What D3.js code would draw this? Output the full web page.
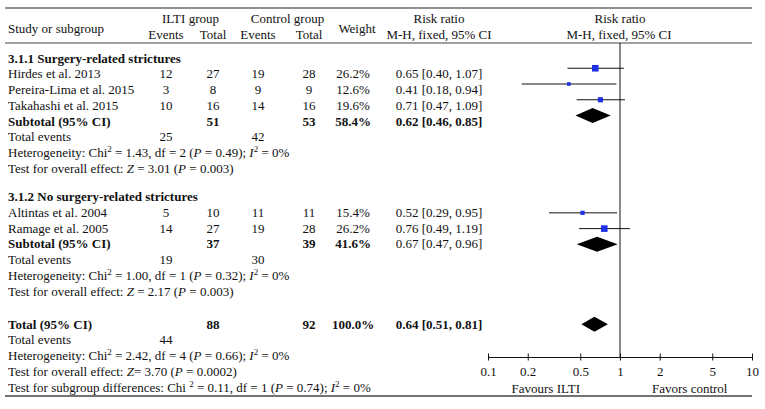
<!DOCTYPE html>
<html><head><meta charset="utf-8">
<script src="https://cdn.jsdelivr.net/npm/d3@7/dist/d3.min.js"></script>
<style>
html,body{margin:0;padding:0;background:#fff;}
svg{display:block;}
text{font-family:"Liberation Serif","DejaVu Serif",serif;font-size:13px;fill:#111;}
</style></head>
<body>
<script>
// ---------- data ----------
const studies = ["Hirdes et al. 2013","Pereira-Lima et al. 2015","Takahashi et al. 2015","Altintas et al. 2004","Ramage et al. 2005"];
const studyGroup = [0,0,0,1,1];
const iltiEvents = [12,3,10,5,14];
const iltiTotal = [27,8,16,10,27];
const ctrlEvents = [19,9,14,11,19];
const ctrlTotal = [28,9,16,11,28];
const weights = [26.2,12.6,19.6,15.4,26.2];
const rr = [0.65,0.41,0.71,0.52,0.76];
const rrLow = [0.40,0.18,0.47,0.29,0.49];
const rrHigh = [1.07,0.94,1.09,0.95,1.19];

const groupNames = ["3.1.1 Surgery-related strictures","3.1.2 No surgery-related strictures"];
const subIltiTotal = [51,37];
const subCtrlTotal = [53,39];
const subWeight = [58.4,41.6];
const subRR = [0.62,0.67];
const subLow = [0.46,0.47];
const subHigh = [0.85,0.96];
const subIltiEvents = [25,19];
const subCtrlEvents = [42,30];
const subChi = ["1.43","1.00"];
const subDf = [2,1];
const subP = ["0.49","0.32"];
const subI2 = [0,0];
const subZ = ["3.01","2.17"];
const subZP = ["0.003","0.003"];

const totIltiTotal = 88, totCtrlTotal = 92, totWeight = 100.0;
const totRR = 0.64, totLow = 0.51, totHigh = 0.81;
const totIltiEvents = 44;
const totChi = "2.42", totDf = 4, totP = "0.66", totI2 = 0;
const totZ = "3.70", totZP = "0.0002";
const sgChi = "0.11", sgDf = 1, sgP = "0.74", sgI2 = 0;

const axisTicks = [0.1,0.2,0.5,1,2,5,10];
const axisTickLabels = ["0.1","0.2","0.5","1","2","5","10"];
const favourLabels = ["Favours ILTI","Favors control"];

// ---------- layout ----------
const W = 765, H = 409;
const svg = d3.select("body").append("svg").attr("width",W).attr("height",H);

const x = d3.scaleLog().domain([0.1,10]).range([488,752]);
const rowY = d3.scaleLinear().domain([0,1]).range([58,73.75]);
const col = {study:8, ie:166, it:213, ce:258, ct:309, w:353, rr:439};
const lineL = 5, lineR = 752;
const baseOff = 4.5;
const markOffset = [-5.5, 0.5];

const f2 = d3.format(".2f");
const rrText = (a,l,h) => `${f2(a)} [${f2(l)}, ${f2(h)}]`;
const pct = d3.format(".1f");

function rich(xPos, y, segs, opts={}) {
  const t = svg.append("text").attr("x",xPos).attr("y",y+baseOff);
  if (opts.anchor) t.attr("text-anchor",opts.anchor);
  if (opts.bold) t.style("font-weight","bold");
  let pending = 0;
  segs.forEach(s => {
    const seg = typeof s === "string" ? {t:s} : s;
    const sp = t.append("tspan").text(seg.t);
    let dy = pending;
    pending = 0;
    if (seg.i) sp.style("font-style","italic");
    if (seg.sup) { dy += -5; pending = 5; sp.style("font-size","9px"); }
    if (dy) sp.attr("dy",dy);
  });
  return t;
}
function txt(xPos, y, s, anchor="middle", bold=false) {
  return rich(xPos, y, [String(s)], {anchor, bold});
}

// ---------- rules ----------
svg.append("line").attr("x1",lineL).attr("x2",lineR).attr("y1",8).attr("y2",8).attr("stroke","#222").attr("stroke-width",1.2);
svg.append("line").attr("x1",lineL).attr("x2",lineR).attr("y1",43).attr("y2",43).attr("stroke","#444").attr("stroke-width",1.2);
svg.append("line").attr("x1",lineL).attr("x2",lineR).attr("y1",396).attr("y2",396).attr("stroke","#444").attr("stroke-width",1.5);

// ---------- header ----------
txt(col.study, 28, "Study or subgroup", "start");
txt((col.ie+col.it)/2+1, 18, "ILTI group");
txt((col.ce+col.ct)/2+4, 18, "Control group");
txt(col.ie, 34, "Events"); txt(col.it, 34, "Total");
txt(col.ce, 34, "Events"); txt(col.ct, 34, "Total");
txt(col.w+4, 28, "Weight");
txt(col.rr, 18, "Risk ratio"); txt(col.rr, 34, "M-H, fixed, 95% CI");
txt(x(1), 18, "Risk ratio"); txt(x(1)-1, 34, "M-H, fixed, 95% CI");

// ---------- rows ----------
const groupStart = [0, 8.8];
const marks = svg.append("g");
const wScale = d3.scaleLinear().domain([12.6,26.2]).range([3.6,6.6]);

groupNames.forEach((g,gi) => {
  const r0 = groupStart[gi];
  txt(col.study, rowY(r0), g, "start", true);
  const idx = studies.map((s,i)=>i).filter(i=>studyGroup[i]===gi);
  idx.forEach((i,k) => {
    const y = rowY(r0+1+k);
    txt(col.study, y, studies[i], "start");
    txt(col.ie, y, iltiEvents[i]); txt(col.it, y, iltiTotal[i]);
    txt(col.ce, y, ctrlEvents[i]); txt(col.ct, y, ctrlTotal[i]);
    txt(col.w, y, pct(weights[i])+"%");
    txt(col.rr, y, rrText(rr[i],rrLow[i],rrHigh[i]));
    const my = y + markOffset[gi];
    marks.append("line").attr("x1",x(rrLow[i])).attr("x2",x(rrHigh[i])).attr("y1",my).attr("y2",my).attr("stroke","#111").attr("stroke-width",1);
    const s = wScale(weights[i]);
    marks.append("rect").attr("x",x(rr[i])-s/2).attr("y",my-s/2).attr("width",s).attr("height",s).attr("fill","#1f2fe6");
  });
  const rs = r0+1+idx.length;
  const ys = rowY(rs);
  txt(col.study, ys, "Subtotal (95% CI)", "start", true);
  txt(col.it, ys, subIltiTotal[gi], "middle", true);
  txt(col.ct, ys, subCtrlTotal[gi], "middle", true);
  txt(col.w, ys, pct(subWeight[gi])+"%", "middle", true);
  txt(col.rr, ys, rrText(subRR[gi],subLow[gi],subHigh[gi]), "middle", gi===0);
  const dy = ys + markOffset[gi];
  marks.append("path").attr("d",`M${x(subLow[gi])},${dy}L${x(subRR[gi])},${dy-7.5}L${x(subHigh[gi])},${dy}L${x(subRR[gi])},${dy+7.5}Z`).attr("fill","#000");
  const yt = rowY(rs+1);
  txt(col.study, yt, "Total events", "start");
  txt(col.ie, yt, subIltiEvents[gi]); txt(col.ce, yt, subCtrlEvents[gi]);
  rich(col.study, rowY(rs+2), ["Heterogeneity: Chi",{t:"2",sup:1},` = ${subChi[gi]}, df = ${subDf[gi]} (`,{t:"P",i:1},` = ${subP[gi]}); `,{t:"I",i:1},{t:"2",sup:1},` = ${subI2[gi]}%`]);
  rich(col.study, rowY(rs+3), ["Test for overall effect:  ",{t:"Z",i:1},` = ${subZ[gi]} (`,{t:"P",i:1},` = ${subZP[gi]})`]);
});

// overall
const rt = 16.9;
const yT = rowY(rt);
txt(col.study, yT, "Total (95% CI)", "start", true);
txt(col.it, yT, totIltiTotal, "middle", true);
txt(col.ct, yT, totCtrlTotal, "middle", true);
txt(col.w, yT, pct(totWeight)+"%", "middle", true);
txt(col.rr, yT, rrText(totRR,totLow,totHigh), "middle", true);
marks.append("path").attr("d",`M${x(totLow)},${yT}L${x(totRR)},${yT-7.5}L${x(totHigh)},${yT}L${x(totRR)},${yT+7.5}Z`).attr("fill","#000");
txt(col.study, rowY(rt+1), "Total events", "start");
txt(col.ie, rowY(rt+1), totIltiEvents);
rich(col.study, rowY(rt+2), ["Heterogeneity: Chi",{t:"2",sup:1},` = ${totChi}, df = ${totDf} (`,{t:"P",i:1},` = ${totP}); `,{t:"I",i:1},{t:"2",sup:1},` = ${totI2}%`]);
rich(col.study, rowY(rt+3), ["Test for overall effect:  ",{t:"Z",i:1},`= ${totZ} (`,{t:"P",i:1},` = ${totZP})`]);
rich(col.study, rowY(rt+4), ["Test for subgroup differences: Chi ",{t:"2",sup:1},` = ${sgChi}, df = ${sgDf} (`,{t:"P",i:1},` = ${sgP}); `,{t:"I",i:1},{t:"2",sup:1},` = ${sgI2}%`]);

// ---------- axis ----------
const axisY = 357;
svg.append("line").attr("x1",x(1)).attr("x2",x(1)).attr("y1",43).attr("y2",axisY).attr("stroke","#111").attr("stroke-width",1);
const ax = svg.append("g").attr("transform",`translate(0,${axisY})`)
  .call(d3.axisBottom(x).tickValues(axisTicks).tickFormat((d,i)=>axisTickLabels[i]).tickSizeOuter(0).tickSize(3));
ax.select(".domain").attr("stroke","#111");
ax.selectAll(".tick line").attr("y1",-3.5).attr("y2",3.5).attr("stroke","#111");
ax.selectAll(".tick text").attr("y",10).style("font-size","13px").style("font-family",'"Liberation Serif","DejaVu Serif",serif').attr("fill","#111");
txt(x(1)-40, 388, favourLabels[0], "end");
txt(x(1)+32, 388, favourLabels[1], "start");
</script>
</body></html>
